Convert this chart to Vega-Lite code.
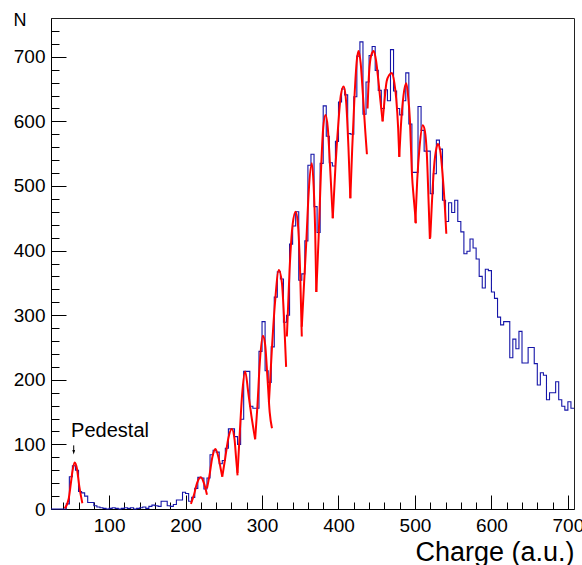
{
  "$schema": "https://vega.github.io/schema/vega-lite/v6.json",
  "width": 523,
  "height": 491,
  "autosize": "none",
  "padding": {"left": 51, "top": 18, "right": 8, "bottom": 56},
  "background": "white",
  "config": {"view": {"stroke": "#222", "strokeWidth": 1}, "font": "Liberation Sans"},
  "resolve": {"axis": {"x": "independent", "y": "independent"}},
  "datasets": {
    "hist": [
      {"charge":24,"n":0},{"charge":28,"n":0},{"charge":32,"n":0},{"charge":36,"n":0},{"charge":40,"n":0},
      {"charge":44,"n":8},{"charge":48,"n":50},{"charge":52,"n":67},{"charge":56,"n":60},{"charge":60,"n":27},
      {"charge":64,"n":25},{"charge":68,"n":20},{"charge":72,"n":10},{"charge":76,"n":10},{"charge":80,"n":5},
      {"charge":84,"n":3},{"charge":88,"n":2},{"charge":92,"n":1},{"charge":96,"n":0},{"charge":100,"n":1},
      {"charge":104,"n":2},{"charge":108,"n":1},{"charge":112,"n":0},{"charge":116,"n":1},{"charge":120,"n":2},
      {"charge":124,"n":1},{"charge":128,"n":2},{"charge":132,"n":0},{"charge":136,"n":1},{"charge":140,"n":2},
      {"charge":144,"n":3},{"charge":148,"n":1},{"charge":152,"n":4},{"charge":156,"n":6},{"charge":160,"n":5},
      {"charge":164,"n":4},{"charge":168,"n":12},{"charge":172,"n":12},{"charge":176,"n":5},{"charge":180,"n":4},
      {"charge":184,"n":7},{"charge":188,"n":14},{"charge":192,"n":14},{"charge":196,"n":26},{"charge":200,"n":24},
      {"charge":204,"n":12},{"charge":208,"n":18},{"charge":212,"n":32},{"charge":216,"n":49},{"charge":220,"n":48},
      {"charge":224,"n":31},{"charge":228,"n":48},{"charge":232,"n":84},{"charge":236,"n":91},{"charge":240,"n":88},
      {"charge":244,"n":70},{"charge":248,"n":75},{"charge":252,"n":94},{"charge":256,"n":124},{"charge":260,"n":124},
      {"charge":264,"n":112},{"charge":268,"n":100},{"charge":272,"n":139},{"charge":276,"n":213},{"charge":280,"n":213},
      {"charge":284,"n":159},{"charge":288,"n":156},{"charge":292,"n":156},{"charge":296,"n":244},{"charge":300,"n":290},
      {"charge":304,"n":214},{"charge":308,"n":196},{"charge":312,"n":251},{"charge":316,"n":328},{"charge":320,"n":367},
      {"charge":324,"n":356},{"charge":328,"n":289},{"charge":332,"n":300},{"charge":336,"n":410},{"charge":340,"n":438},
      {"charge":344,"n":460},{"charge":348,"n":354},{"charge":352,"n":364},{"charge":356,"n":415},{"charge":360,"n":532},
      {"charge":364,"n":549},{"charge":368,"n":468},{"charge":372,"n":428},{"charge":376,"n":535},{"charge":380,"n":624},
      {"charge":384,"n":577},{"charge":388,"n":536},{"charge":392,"n":531},{"charge":396,"n":569},{"charge":400,"n":630},
      {"charge":404,"n":650},{"charge":408,"n":641},{"charge":412,"n":581},{"charge":416,"n":580},{"charge":420,"n":638},
      {"charge":424,"n":701},{"charge":428,"n":723},{"charge":432,"n":611},{"charge":436,"n":661},{"charge":440,"n":702},
      {"charge":444,"n":716},{"charge":448,"n":679},{"charge":452,"n":648},{"charge":456,"n":620},{"charge":460,"n":649},
      {"charge":464,"n":632},{"charge":468,"n":711},{"charge":472,"n":647},{"charge":476,"n":620},{"charge":480,"n":610},
      {"charge":484,"n":632},{"charge":488,"n":675},{"charge":492,"n":596},{"charge":496,"n":521},{"charge":500,"n":521},
      {"charge":504,"n":623},{"charge":508,"n":586},{"charge":512,"n":554},{"charge":516,"n":554},{"charge":520,"n":488},
      {"charge":524,"n":519},{"charge":528,"n":571},{"charge":532,"n":557},{"charge":536,"n":478},{"charge":540,"n":445},
      {"charge":544,"n":474},{"charge":548,"n":459},{"charge":552,"n":478},{"charge":556,"n":445},{"charge":560,"n":429},
      {"charge":564,"n":395},{"charge":568,"n":399},{"charge":572,"n":418},{"charge":576,"n":404},{"charge":580,"n":387},
      {"charge":584,"n":360},{"charge":588,"n":342},{"charge":592,"n":371},{"charge":596,"n":369},{"charge":600,"n":336},
      {"charge":604,"n":326},{"charge":608,"n":297},{"charge":612,"n":285},{"charge":616,"n":290},{"charge":620,"n":290},
      {"charge":624,"n":234},{"charge":628,"n":263},{"charge":632,"n":248},{"charge":636,"n":275},{"charge":640,"n":226},
      {"charge":644,"n":226},{"charge":648,"n":250},{"charge":652,"n":250},{"charge":656,"n":225},{"charge":660,"n":192},
      {"charge":664,"n":211},{"charge":668,"n":207},{"charge":672,"n":169},{"charge":676,"n":180},{"charge":680,"n":180},
      {"charge":684,"n":197},{"charge":688,"n":169},{"charge":692,"n":159},{"charge":696,"n":153},{"charge":700,"n":166},
      {"charge":704,"n":156},{"charge":708,"n":156}
    ],
    "fits": [
      {"peak":"A","charge":42,"n":1},{"peak":"A","charge":47,"n":15},{"peak":"A","charge":50,"n":40},{"peak":"A","charge":52,"n":58},{"peak":"A","charge":55,"n":72},{"peak":"A","charge":58,"n":62},{"peak":"A","charge":61,"n":35},{"peak":"A","charge":65,"n":9},
      {"peak":"B","charge":207,"n":8},{"peak":"B","charge":211,"n":22},{"peak":"B","charge":215,"n":40},{"peak":"B","charge":220,"n":49},{"peak":"B","charge":224,"n":40},{"peak":"B","charge":228,"n":22},
      {"peak":"C","charge":228,"n":32},{"peak":"C","charge":231,"n":50},{"peak":"C","charge":235,"n":80},{"peak":"C","charge":239,"n":93},{"peak":"C","charge":243,"n":80},{"peak":"C","charge":246,"n":62},{"peak":"C","charge":248,"n":50},
      {"peak":"D","charge":248,"n":50},{"peak":"D","charge":252,"n":80},{"peak":"D","charge":256,"n":110},{"peak":"D","charge":260.5,"n":124},{"peak":"D","charge":264,"n":108},{"peak":"D","charge":266,"n":80},{"peak":"D","charge":268,"n":52},
      {"peak":"E","charge":268,"n":56},{"peak":"E","charge":271,"n":120},{"peak":"E","charge":274,"n":178},{"peak":"E","charge":278,"n":213},{"peak":"E","charge":282,"n":180},{"peak":"E","charge":286,"n":145},{"peak":"E","charge":291,"n":108},
      {"peak":"F","charge":291,"n":108},{"peak":"F","charge":294,"n":160},{"peak":"F","charge":297,"n":225},{"peak":"F","charge":301,"n":268},{"peak":"F","charge":304,"n":255},{"peak":"F","charge":307,"n":205},{"peak":"F","charge":310,"n":150},{"peak":"F","charge":313,"n":125},
      {"peak":"G","charge":309,"n":165},{"peak":"G","charge":313,"n":250},{"peak":"G","charge":317,"n":320},{"peak":"G","charge":322,"n":370},{"peak":"G","charge":326,"n":350},{"peak":"G","charge":329,"n":290},{"peak":"G","charge":331.5,"n":220},
      {"peak":"H","charge":332.5,"n":267},{"peak":"H","charge":336,"n":370},{"peak":"H","charge":340,"n":440},{"peak":"H","charge":344,"n":460},{"peak":"H","charge":347,"n":440},{"peak":"H","charge":350,"n":360},{"peak":"H","charge":352,"n":267},
      {"peak":"I","charge":352,"n":282},{"peak":"I","charge":355,"n":350},{"peak":"I","charge":358,"n":416},{"peak":"I","charge":361,"n":490},{"peak":"I","charge":365,"n":535},{"peak":"I","charge":367.5,"n":500},{"peak":"I","charge":369.5,"n":430},{"peak":"I","charge":371,"n":336},
      {"peak":"J","charge":371,"n":336},{"peak":"J","charge":374,"n":420},{"peak":"J","charge":377,"n":520},{"peak":"J","charge":380,"n":590},{"peak":"J","charge":383,"n":610},{"peak":"J","charge":386,"n":590},{"peak":"J","charge":389,"n":530},{"peak":"J","charge":392.5,"n":450},
      {"peak":"K","charge":392.5,"n":450},{"peak":"K","charge":396,"n":530},{"peak":"K","charge":400,"n":600},{"peak":"K","charge":403,"n":640},{"peak":"K","charge":406.7,"n":654},{"peak":"K","charge":410,"n":630},{"peak":"K","charge":413,"n":560},{"peak":"K","charge":415.5,"n":481},
      {"peak":"L","charge":415.5,"n":481},{"peak":"L","charge":418,"n":560},{"peak":"L","charge":421,"n":640},{"peak":"L","charge":424,"n":695},{"peak":"L","charge":426.3,"n":709},{"peak":"L","charge":429,"n":690},{"peak":"L","charge":432,"n":640},{"peak":"L","charge":435,"n":585},{"peak":"L","charge":437.2,"n":549},
      {"peak":"M","charge":438,"n":620},{"peak":"M","charge":440,"n":675},{"peak":"M","charge":443,"n":703},{"peak":"M","charge":446,"n":709},{"peak":"M","charge":449,"n":695},{"peak":"M","charge":452,"n":665},{"peak":"M","charge":455,"n":630},{"peak":"M","charge":457.7,"n":600},
      {"peak":"N","charge":457.7,"n":600},{"peak":"N","charge":460,"n":630},{"peak":"N","charge":463,"n":662},{"peak":"N","charge":466.5,"n":672},{"peak":"N","charge":470,"n":675},{"peak":"N","charge":473,"n":660},{"peak":"N","charge":475.5,"n":635},{"peak":"N","charge":478,"n":590},{"peak":"N","charge":479.5,"n":545},
      {"peak":"O","charge":479.5,"n":545},{"peak":"O","charge":482,"n":600},{"peak":"O","charge":485,"n":640},{"peak":"O","charge":488.6,"n":659},{"peak":"O","charge":491,"n":640},{"peak":"O","charge":493.5,"n":600},{"peak":"O","charge":496,"n":520},{"peak":"O","charge":498.5,"n":480},{"peak":"O","charge":501.3,"n":442},
      {"peak":"P","charge":500.5,"n":443},{"peak":"P","charge":503,"n":510},{"peak":"P","charge":506,"n":560},{"peak":"P","charge":510.2,"n":594},{"peak":"P","charge":513,"n":585},{"peak":"P","charge":515.5,"n":550},{"peak":"P","charge":518,"n":470},{"peak":"P","charge":519.5,"n":418},
      {"peak":"Q","charge":520,"n":420},{"peak":"Q","charge":522,"n":470},{"peak":"Q","charge":525,"n":530},{"peak":"Q","charge":528,"n":558},{"peak":"Q","charge":530,"n":565},{"peak":"Q","charge":533,"n":555},{"peak":"Q","charge":536,"n":520},{"peak":"Q","charge":539,"n":470},{"peak":"Q","charge":541,"n":426}
    ],
    "note": [{"charge":50.3,"n":112,"label":"Pedestal"}],
    "arrow": [{"charge":53.7,"n":98.5,"n2":88}],
    "head": [{"charge":53.7,"n":87.8}]
  },
  "layer": [
    {
      "data": {"name": "hist"},
      "mark": {"type": "line", "interpolate": "step-after", "color": "#1515a8", "strokeWidth": 1.1},
      "encoding": {
        "x": {
          "field": "charge", "type": "quantitative",
          "scale": {"domain": [24, 708], "nice": false, "zero": false},
          "axis": {
            "orient": "bottom",
            "values": [100,200,300,400,500,600,700],
            "tickSize": -14,
            "tickColor": "black", "domainColor": "black", "grid": false,
            "labelFont": "Liberation Sans", "labelFontSize": 19, "labelColor": "black",
            "labelPadding": 21, "labelFlush": false, "labelOverlap": false,
            "title": "Charge (a.u.)", "titleFont": "Liberation Sans", "titleFontSize": 27, "titleFontWeight": "normal",
            "titleColor": "black", "titleAlign": "right", "titleAnchor": "end", "titleX": 523, "titleY": 51, "titleBaseline": "alphabetic"
          }
        },
        "y": {
          "field": "n", "type": "quantitative",
          "scale": {"domain": [0, 760], "nice": false},
          "axis": {
            "orient": "left",
            "values": [0,100,200,300,400,500,600,700],
            "tickSize": -15,
            "tickColor": "black", "domainColor": "black", "grid": false,
            "labelFont": "Liberation Sans", "labelFontSize": 19, "labelColor": "black",
            "labelPadding": 21, "labelFlush": false, "labelOverlap": false,
            "title": "N", "titleFont": "Liberation Sans", "titleFontSize": 18, "titleFontWeight": "normal",
            "titleColor": "black", "titleAngle": 0, "titleAlign": "left", "titleX": -38, "titleY": 7, "titleBaseline": "alphabetic"
          }
        }
      }
    },
    {
      "data": {"name": "fits"},
      "mark": {"type": "line", "interpolate": "monotone", "color": "#ff0000", "strokeWidth": 2},
      "encoding": {
        "x": {
          "field": "charge", "type": "quantitative",
          "axis": {
            "orient": "bottom",
            "values": [40,60,80,120,140,160,180,220,240,260,280,320,340,360,380,420,440,460,480,520,540,560,580,620,640,660,680],
            "tickSize": -7, "tickColor": "black", "labels": false, "domain": false, "grid": false, "title": null
          }
        },
        "y": {
          "field": "n", "type": "quantitative",
          "axis": {
            "orient": "left",
            "values": [20,40,60,80,120,140,160,180,220,240,260,280,320,340,360,380,420,440,460,480,520,540,560,580,620,640,660,680,720,740],
            "tickSize": -8, "tickColor": "black", "labels": false, "domain": false, "grid": false, "title": null
          }
        },
        "detail": {"field": "peak", "type": "nominal"}
      }
    },
    {
      "data": {"name": "note"},
      "mark": {"type": "text", "align": "left", "baseline": "alphabetic", "font": "Liberation Sans", "fontSize": 20, "color": "black"},
      "encoding": {
        "x": {"field": "charge", "type": "quantitative", "axis": null},
        "y": {"field": "n", "type": "quantitative", "axis": null},
        "text": {"field": "label"}
      }
    },
    {
      "data": {"name": "arrow"},
      "mark": {"type": "rule", "color": "black", "strokeWidth": 1},
      "encoding": {
        "x": {"field": "charge", "type": "quantitative", "axis": null},
        "y": {"field": "n", "type": "quantitative", "axis": null},
        "y2": {"field": "n2"}
      }
    },
    {
      "data": {"name": "head"},
      "mark": {"type": "point", "shape": "M-0.3,-0.5L0.3,-0.5L0,0.5Z", "filled": true, "color": "black", "size": 81, "opacity": 1},
      "encoding": {
        "x": {"field": "charge", "type": "quantitative", "axis": null},
        "y": {"field": "n", "type": "quantitative", "axis": null}
      }
    }
  ]
}
